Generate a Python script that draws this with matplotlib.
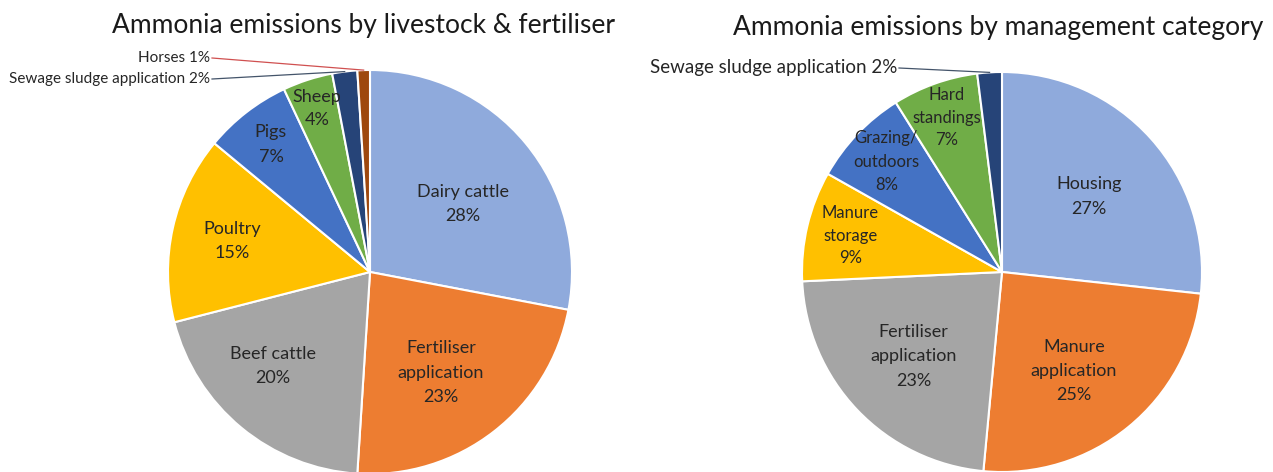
import numpy as np
import matplotlib
matplotlib.use("Agg")
import matplotlib.pyplot as plt

plt.rcParams["font.family"] = ["Lato", "DejaVu Sans"]

# ---- data ----
left_title = "Ammonia emissions by livestock & fertiliser"
left_names = ["Dairy cattle", "Fertiliser\napplication", "Beef cattle", "Poultry",
              "Pigs", "Sheep", "Sewage sludge application", "Horses"]
left_pct = [28, 23, 20, 15, 7, 4, 2, 1]
left_colors = ["#8FAADC", "#ED7D31", "#A5A5A5", "#FFC000",
               "#4472C4", "#70AD47", "#264478", "#9E480E"]

right_title = "Ammonia emissions by management category"
right_names = ["Housing", "Manure\napplication", "Fertiliser\napplication", "Manure\nstorage",
               "Grazing/\noutdoors", "Hard\nstandings", "Sewage sludge application"]
right_pct = [27, 25, 23, 9, 8, 7, 2]
right_colors = ["#8FAADC", "#ED7D31", "#A5A5A5", "#FFC000",
                "#4472C4", "#70AD47", "#264478"]

TXT = "#262626"


def draw_pie(ax, pct, names, colors, inside, outside):
    wedges, _ = ax.pie(pct, colors=colors, startangle=90, counterclock=False,
                       radius=1, wedgeprops=dict(edgecolor="white", linewidth=1.5))
    ax.set_xlim(-1, 1)
    ax.set_ylim(-1, 1)
    ax.set_aspect("equal")
    ax.axis("off")
    for i, w in enumerate(wedges):
        mid = (w.theta1 + w.theta2) / 2
        label = f"{names[i]}\n{pct[i]}%"
        if i in inside:
            # label sits along the slice's mid-angle (with a small nudge)
            dist, dth, size, ls = inside[i]
            a = np.deg2rad(mid + dth)
            ax.text(dist * np.cos(a), dist * np.sin(a), label, ha="center", va="center",
                    fontsize=size, color=TXT, linespacing=ls)
        elif i in outside:
            tx, ty, lc, size = outside[i]
            a = np.deg2rad(mid)
            ax.plot([tx + 0.01, np.cos(a)], [ty, np.sin(a)], color=lc, lw=0.9, clip_on=False)
            ax.text(tx, ty, f"{names[i]} {pct[i]}%", ha="right", va="center",
                    fontsize=size, color=TXT, clip_on=False)


fig = plt.figure(figsize=(12.73, 4.72), dpi=100)
W, H = 1273, 472

# left pie: centre (370, 272), radius 202 px
r1 = 202
ax1 = fig.add_axes([(370 - r1) / W, (H - 272 - r1) / H, 2 * r1 / W, 2 * r1 / H])
draw_pie(ax1, left_pct, left_names, left_colors,
         inside={0: (0.57, -3.4, 13, 1.65), 1: (0.61, -2.7, 13, 1.65),
                 2: (0.67, -6.3, 13, 1.65), 3: (0.70, 0, 13, 1.65),
                 4: (0.80, 0, 13, 1.65), 5: (0.85, 0, 13, 1.55)},
         outside={6: ((210 - 370) / r1, (272 - 79) / r1, "#44546A", 11),
                  7: ((210 - 370) / r1, (272 - 58) / r1, "#D05050", 11)})

# right pie: centre (1002, 272), radius 200 px
r2 = 200
ax2 = fig.add_axes([(1002 - r2) / W, (H - 272 - r2) / H, 2 * r2 / W, 2 * r2 / H])
draw_pie(ax2, right_pct, right_names, right_colors,
         inside={0: (0.576, -1.0, 13, 1.65), 1: (0.612, -3.2, 13, 1.65),
                 2: (0.61, 0, 13, 1.65), 3: (0.78, 0, 12, 1.5),
                 4: (0.80, 0, 12, 1.55), 5: (0.82, 0, 12, 1.5)},
         outside={6: ((897 - 1002) / r2, (272 - 68) / r2, "#44546A", 13.5)})

fig.text(364 / W, 1 - 25 / H, left_title, ha="center", va="center", fontsize=19, color="#1a1a1a")
fig.text(998 / W, 1 - 27 / H, right_title, ha="center", va="center", fontsize=19, color="#1a1a1a")

fig.savefig("out.png", dpi=100)
